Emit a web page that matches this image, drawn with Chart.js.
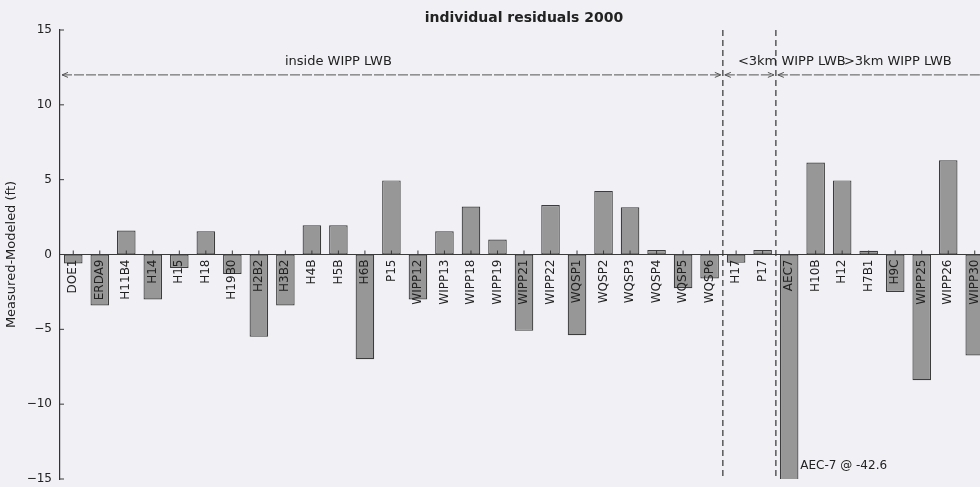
<!DOCTYPE html>
<html>
<head>
<meta charset="utf-8">
<script src="https://cdn.jsdelivr.net/npm/chart.js@4/dist/chart.umd.min.js"></script>
<style>
  html, body { margin: 0; padding: 0; background: #f0f0f5; overflow: hidden; }
  #wrap { width: 1000px; height: 487px; }
</style>
</head>
<body>
<div id="wrap"><canvas id="c" width="1000" height="487"></canvas></div>
<script>
// Wells, in plotting order
const wells = [
  'DOE1', 'ERDA9', 'H11B4', 'H14', 'H15', 'H18', 'H19B0', 'H2B2', 'H3B2', 'H4B',
  'H5B', 'H6B', 'P15', 'WIPP12', 'WIPP13', 'WIPP18', 'WIPP19', 'WIPP21', 'WIPP22', 'WQSP1',
  'WQSP2', 'WQSP3', 'WQSP4', 'WQSP5', 'WQSP6', 'H17', 'P17', 'AEC7', 'H10B', 'H12',
  'H7B1', 'H9C', 'WIPP25', 'WIPP26', 'WIPP30'
];

// Measured minus modeled head, ft
const residuals = [
  -0.6, -3.4, 1.6, -3.0, -0.9, 1.55, -1.3, -5.5, -3.4, 1.95,
  1.95, -7.0, 4.95, -3.0, 1.55, 3.2, 1.0, -5.1, 3.3, -5.4,
  4.25, 3.15, 0.3, -2.25, -1.6, -0.55, 0.3, -42.6, 6.15, 4.95,
  0.25, -2.5, -8.4, 6.3, -6.75
];

const yTicks = [-15, -10, -5, 0, 5, 10, 15];

// Distance classes and the well-index boundaries between them
const regionNames = ['inside WIPP LWB', '<3km WIPP LWB', '>3km WIPP LWB'];
const regionEdges = [-0.5, 24.5, 26.5, 35];

const outlierWell = 'AEC7';

const FONT = '"DejaVu Sans", "Liberation Sans", sans-serif';
const INK = '#222';

function minusFmt(v) { return v < 0 ? '\u2212' + Math.abs(v) : String(v); }

const background = {
  id: 'background',
  beforeDraw(chart) {
    const { ctx, width, height } = chart;
    ctx.save();
    ctx.fillStyle = '#f0f0f5';
    ctx.fillRect(0, 0, width, height);
    ctx.restore();
  }
};

function seg(ctx, x1, y1, x2, y2) {
  ctx.beginPath(); ctx.moveTo(x1, y1); ctx.lineTo(x2, y2); ctx.stroke();
}

function arrowHead(ctx, x, y, dir) {
  // open "->" head pointing in direction dir (+1 right, -1 left)
  ctx.save();
  ctx.setLineDash([]);
  ctx.beginPath();
  ctx.moveTo(x - dir * 6, y - 2.5);
  ctx.lineTo(x, y);
  ctx.lineTo(x - dir * 6, y + 2.5);
  ctx.stroke();
  ctx.restore();
}

const annotations = {
  id: 'annotations',
  afterDatasetsDraw(chart) {
    const { ctx, chartArea: a, scales: { x, y } } = chart;
    const y0 = y.getPixelForValue(0);
    ctx.save();

    // zero line
    ctx.strokeStyle = '#3a3a3a';
    ctx.lineWidth = 1.2;
    seg(ctx, a.left, y0, a.right, y0);

    // tick marks at each well on the zero line
    ctx.lineWidth = 1;
    wells.forEach((w, i) => {
      const px = x.getPixelForValue(i);
      seg(ctx, px, y0, px, y0 - 4);
    });

    // inward y tick marks
    yTicks.forEach(v => {
      const py = y.getPixelForValue(v);
      seg(ctx, a.left, py, a.left + 4, py);
    });

    // well names, rotated, hanging below the zero line
    ctx.fillStyle = INK;
    ctx.font = '12px ' + FONT;
    wells.forEach((w, i) => {
      ctx.save();
      ctx.translate(x.getPixelForValue(i), y0 + 5);
      ctx.rotate(-Math.PI / 2);
      ctx.textAlign = 'right';
      ctx.textBaseline = 'middle';
      ctx.fillText(w, 0, 0);
      ctx.restore();
    });

    // dashed separators between distance classes
    ctx.strokeStyle = '#333';
    ctx.lineWidth = 1.2;
    ctx.setLineDash([6, 4]);
    [regionEdges[1], regionEdges[2]].forEach(v => {
      const px = x.getPixelForValue(v);
      seg(ctx, px, a.top, px, a.bottom);
    });

    // double-headed arrows spanning each class
    const ay = y.getPixelForValue(12);
    ctx.strokeStyle = '#555';
    ctx.lineWidth = 1;
    for (let r = 0; r < regionNames.length; r++) {
      const x1 = x.getPixelForValue(regionEdges[r]) + 2;
      const x2 = x.getPixelForValue(regionEdges[r + 1]) - 2;
      ctx.setLineDash([10, 2]);
      seg(ctx, x1, ay, x2, ay);
      arrowHead(ctx, x1, ay, -1);
      arrowHead(ctx, x2, ay, 1);
    }
    ctx.setLineDash([]);

    // class labels
    const labelPos = [10, 27.1, 31.1];
    const ly = y.getPixelForValue(12.87);
    ctx.font = '13px ' + FONT;
    ctx.fillStyle = INK;
    ctx.textAlign = 'center';
    ctx.textBaseline = 'middle';
    regionNames.forEach((t, r) => ctx.fillText(t, x.getPixelForValue(labelPos[r]), ly));

    // note for the off-scale well
    const oi = wells.indexOf(outlierWell);
    ctx.font = '12px ' + FONT;
    ctx.textAlign = 'left';
    ctx.fillText('AEC-7 @ ' + residuals[oi], x.getPixelForValue(oi + 0.42), y.getPixelForValue(-14.15));

    // title
    ctx.font = 'bold 14px ' + FONT;
    ctx.textAlign = 'center';
    ctx.fillText('individual residuals 2000', (a.left + a.right) / 2, 18);

    ctx.restore();
  }
};

new Chart(document.getElementById('c'), {
  type: 'bar',
  data: {
    labels: wells,
    datasets: [{
      data: residuals,
      backgroundColor: '#979797',
      borderColor: '#3c3c3c',
      borderWidth: 1.2,
      borderSkipped: false,
      categoryPercentage: 1,
      barPercentage: 0.7
    }]
  },
  options: {
    responsive: false,
    animation: false,
    devicePixelRatio: 1,
    layout: { padding: { top: 30, right: 12, bottom: 8, left: 0 } },
    plugins: {
      legend: { display: false },
      tooltip: { enabled: false },
      title: { display: false }
    },
    scales: {
      x: { display: false, offset: true },
      y: {
        min: -15,
        max: 15,
        afterBuildTicks: s => { s.ticks = yTicks.map(v => ({ value: v })); },
        afterFit: s => { s.width = 60; s.paddingTop = 0; s.paddingBottom = 0; },
        grid: { display: false, drawTicks: false },
        border: { display: true, color: '#333', width: 1.2 },
        ticks: {
          padding: 8,
          color: INK,
          font: { family: FONT, size: 12 },
          callback: v => minusFmt(v)
        },
        title: {
          display: true,
          text: 'Measured-Modeled (ft)',
          color: INK,
          font: { family: FONT, size: 13 },
          padding: { top: 4, bottom: 0 }
        }
      }
    }
  },
  plugins: [background, annotations]
});
</script>
</body>
</html>
